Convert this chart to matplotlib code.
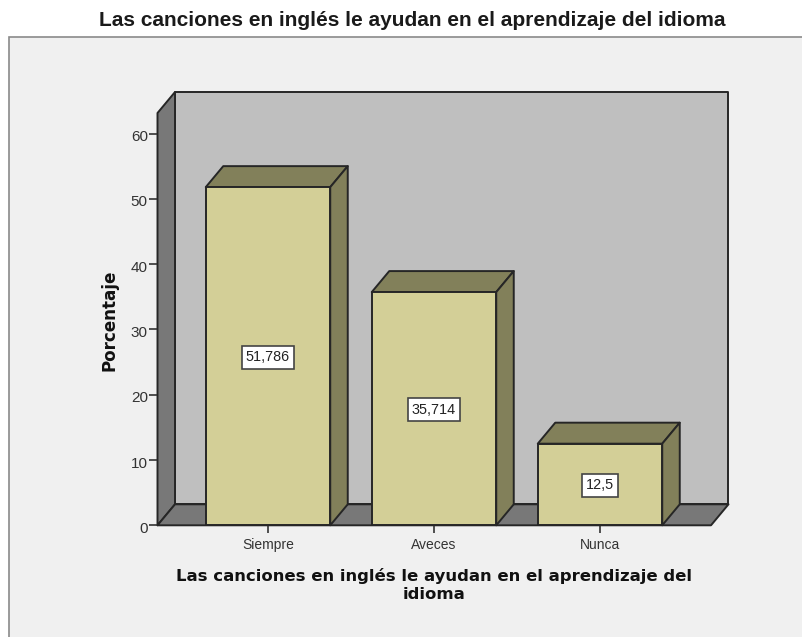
import matplotlib
matplotlib.use('Agg')
import matplotlib.pyplot as plt
from matplotlib.patches import Polygon, Rectangle
from matplotlib.transforms import ScaledTranslation

categories = ['Siempre', 'Aveces', 'Nunca']
percent = [51.786, 35.714, 12.5]
bar_labels = ['51,786', '35,714', '12,5']
y_ticks = [0, 10, 20, 30, 40, 50, 60]

title = 'Las canciones en inglés le ayudan en el aprendizaje del idioma'
xlabel = 'Las canciones en inglés le ayudan en el aprendizaje del\nidioma'
ylabel = 'Porcentaje'

W, H = 803, 637
plt.rcParams['font.family'] = ['Liberation Sans', 'DejaVu Sans']

fig = plt.figure(figsize=(W / 100, H / 100), dpi=100, facecolor='white')

# gray chart frame, runs off the right and bottom of the image
fig.add_artist(Rectangle((9.5 / W, -0.05), 1.0, 1 - 36.5 / H + 0.05, transform=fig.transFigure,
                         facecolor='#f0f0f0', edgecolor='#8a8a8a', lw=1.2, zorder=-1))

# axes box is the front plane of the 3d plot
left, right, top, bottom = 157.5, 711, 113, 525.3
ax = fig.add_axes([left / W, 1 - bottom / H, (right - left) / W, (bottom - top) / H])
ax.patch.set_visible(False)
for s in ax.spines.values():
    s.set_visible(False)

x_per_px = 1 / 166
y_per_px = 10 / 65.3
ax.set_xlim(-(268 - left) * x_per_px, (right - 268) * x_per_px)
ax.set_ylim(0, (bottom - top) * y_per_px)
x0, x1 = ax.get_xlim()
y0, y1 = ax.get_ylim()

dx = 17.5 * x_per_px
dy = 21 * y_per_px
bar_w = 124.5 * x_per_px
edge = '#262626'


def face(pts, color, z):
    ax.add_patch(Polygon(pts, closed=True, facecolor=color, edgecolor=edge, lw=1.4,
                         zorder=z, clip_on=False, joinstyle='round'))


# walls
face([(x0 + dx, y0 + dy), (x1 + dx, y0 + dy), (x1 + dx, y1 + dy), (x0 + dx, y1 + dy)], '#bfbfbf', 1)
face([(x0, y0), (x0 + dx, y0 + dy), (x0 + dx, y1 + dy), (x0, y1)], '#787878', 1)
face([(x0, y0), (x1, y0), (x1 + dx, y0 + dy), (x0 + dx, y0 + dy)], '#787878', 1)

# bars
for i, v in enumerate(percent):
    a, b = i - bar_w / 2, i + bar_w / 2
    face([(a, v), (b, v), (b + dx, v + dy), (a + dx, v + dy)], '#82805a', 2)
    face([(b, 0), (b + dx, dy), (b + dx, v + dy), (b, v)], '#82805a', 2)
    face([(a, 0), (b, 0), (b, v), (a, v)], '#d3cf97', 3)
    ax.text(i, v / 2 - 0.15, bar_labels[i], ha='center', va='center', fontsize=10.4, color='#222222', zorder=5,
            bbox=dict(boxstyle='square,pad=0.3', facecolor='white', edgecolor='#444444', lw=1.2))

ax.set_yticks(y_ticks)
ax.set_xticks(range(len(categories)))
ax.set_xticklabels(categories)
ax.tick_params(axis='y', length=6, width=1.2, color='#333333', labelcolor='#333333', labelsize=11, pad=1)
ax.tick_params(axis='x', length=6, width=1.2, color='#333333', labelcolor='#333333', labelsize=10, pad=3)

# value labels sit a bit below their ticks
for lab in ax.get_yticklabels():
    lab.set_transform(lab.get_transform() + ScaledTranslation(0, -2 / 100, fig.dpi_scale_trans))

fig.text(412 / W, 1 - 20 / H, title, ha='center', va='center', fontsize=15, fontweight='bold', color='#1a1a1a')
fig.text(434 / W, 1 - 585 / H, xlabel, ha='center', va='center', fontsize=11.85, fontweight='bold',
         family=['DejaVu Sans'], color='#111111', linespacing=1.25)
fig.text(110 / W, 1 - 320 / H, ylabel, ha='center', va='center', rotation=90, fontsize=12.1,
         fontweight='bold', family=['DejaVu Sans'], color='#111111')

fig.savefig('out.png', dpi=100)
